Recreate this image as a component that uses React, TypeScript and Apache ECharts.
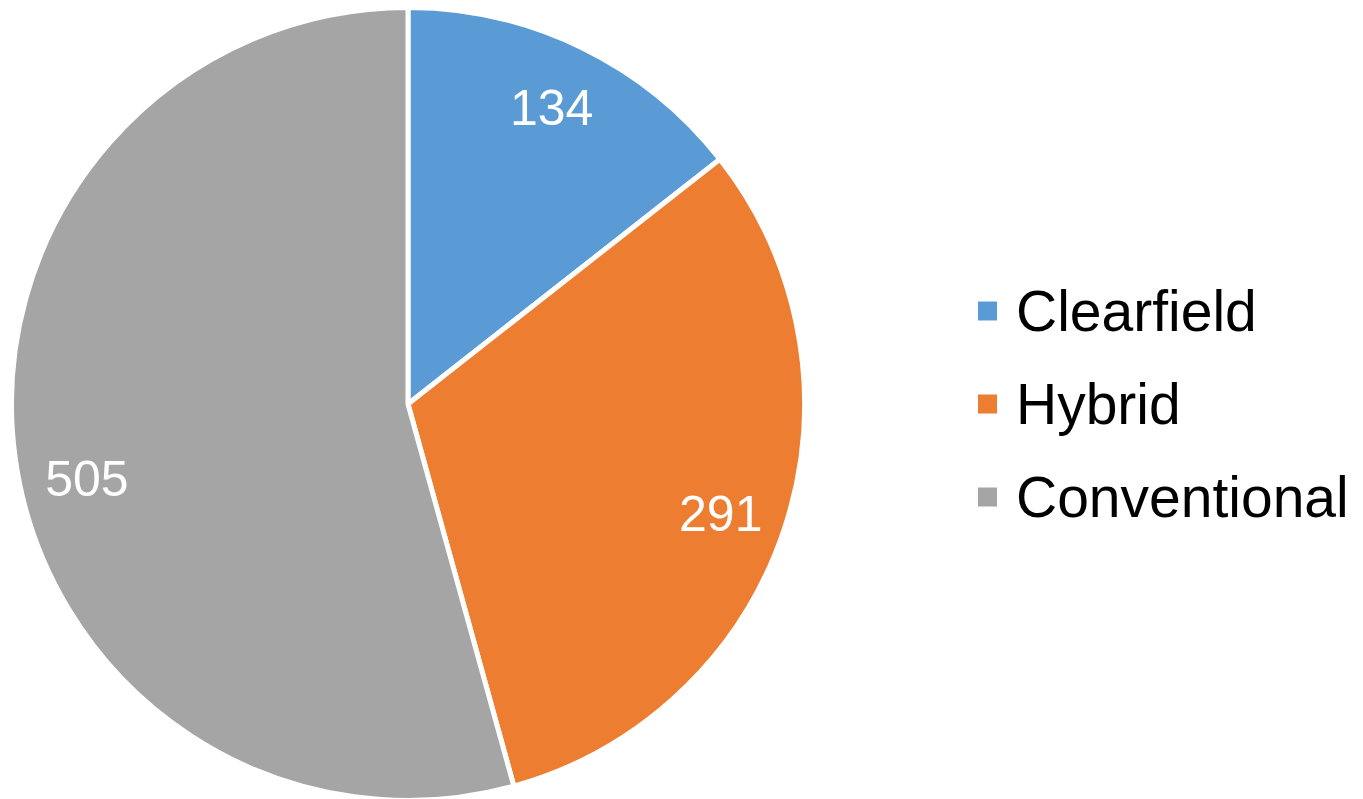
import React, { useEffect, useRef } from "react";
import * as echarts from "echarts";

const categories = ["Clearfield", "Hybrid", "Conventional"];
const values = [134, 291, 505];
const colors = ["#5B9BD5", "#ED7D31", "#A5A5A5"];

// small label nudges (style only) to mimic the original label placement
const labelNudges: [number, number][] = [
  [1, -3],
  [3, 8],
  [2, 31],
];

export default function App() {
  const ref = useRef<HTMLDivElement>(null);
  useEffect(() => {
    if (!ref.current) return;
    const chart = echarts.init(ref.current, undefined, { renderer: "svg" });
    const R = 394;
    const font = "'Liberation Sans', Arial, sans-serif";
    chart.setOption({
      animation: false,
      backgroundColor: "#ffffff",
      legend: {
        orient: "vertical",
        left: 976,
        top: 281,
        padding: 0,
        itemWidth: 21,
        itemHeight: 21,
        itemGap: 33,
        icon: "rect",
        data: categories,
        selectedMode: false,
        textStyle: {
          fontFamily: font,
          fontSize: 57,
          color: "#000000",
          lineHeight: 60,
          padding: [0, 0, 0, 13],
        },
      },
      series: [
        {
          type: "pie",
          center: [408, 404],
          radius: [0, R + 2.5],
          startAngle: 90,
          clockwise: true,
          silent: true,
          label: { show: false },
          labelLine: { show: false },
          itemStyle: { borderColor: "#ffffff", borderWidth: 5 },
          emphasis: { disabled: true },
          data: categories.map((name, i) => ({
            name,
            value: values[i],
            itemStyle: { color: colors[i] },
          })),
        },
        {
          type: "pie",
          center: [408, 404],
          radius: [R * 0.64, R],
          startAngle: 90,
          clockwise: true,
          silent: true,
          labelLine: { show: false },
          itemStyle: { color: "rgba(0,0,0,0)", borderWidth: 0 },
          emphasis: { disabled: true },
          label: {
            show: true,
            position: "inside",
            formatter: "{c}",
            color: "#ffffff",
            fontFamily: font,
            fontSize: 50,
          },
          data: categories.map((name, i) => ({
            name,
            value: values[i],
            label: { offset: labelNudges[i] },
          })),
        },
      ],
    });
    return () => chart.dispose();
  }, []);
  return (
    <div
      ref={ref}
      style={{ position: "absolute", left: 0, top: 0, width: 1363, height: 799 }}
    />
  );
}
